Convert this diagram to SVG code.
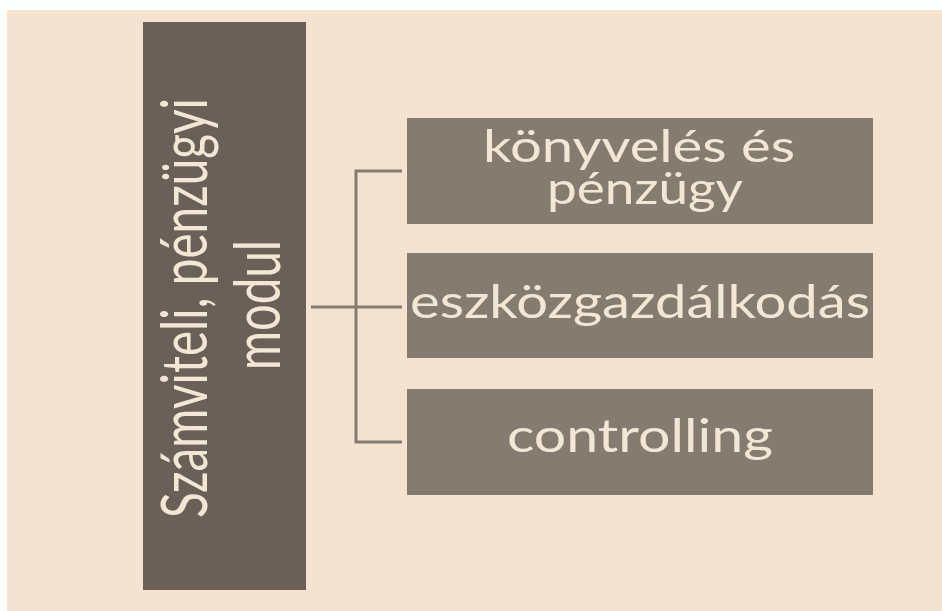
<svg xmlns="http://www.w3.org/2000/svg" width="942" height="611" viewBox="0 0 942 611">
  <style>
    .bg { fill: #F4E3D0; }
    .main { fill: #6A6058; }
    .sub { fill: #857B70; }
    .lbl { font-family: Lato, "Open Sans", "Liberation Sans", sans-serif; fill: #F3E6D5; }
    .conn { fill: none; stroke: #857B70; stroke-width: 3; }
  </style>
  <rect x="0" y="0" width="942" height="611" fill="#FDFEFE"/>
  <rect class="bg" x="7" y="10" width="935" height="601"/>

  <g id="node-main">
    <rect class="main" x="143" y="22" width="163" height="568"/>
    <text class="lbl" font-size="64" text-anchor="middle" transform="translate(207,308) rotate(-90)" textLength="420" lengthAdjust="spacingAndGlyphs">Számviteli, pénzügyi</text>
    <text class="lbl" font-size="64" text-anchor="middle" transform="translate(280,305) rotate(-90)" textLength="130" lengthAdjust="spacingAndGlyphs">modul</text>
  </g>

  <g id="connectors">
    <path class="conn" d="M402,171 H356 V442 H402"/>
    <path class="conn" d="M311,307 H402"/>
  </g>

  <g id="node-konyveles">
    <rect class="sub" x="407" y="118" width="466" height="106"/>
    <text class="lbl" font-size="45" text-anchor="middle" x="639" y="162" textLength="312" lengthAdjust="spacingAndGlyphs">könyvelés és</text>
    <text class="lbl" font-size="45" text-anchor="middle" x="645" y="204" textLength="196" lengthAdjust="spacingAndGlyphs">pénzügy</text>
  </g>

  <g id="node-eszkoz">
    <rect class="sub" x="407" y="253" width="466" height="105"/>
    <text class="lbl" font-size="46" text-anchor="middle" x="640" y="318" textLength="460" lengthAdjust="spacingAndGlyphs">eszközgazdálkodás</text>
  </g>

  <g id="node-controlling">
    <rect class="sub" x="407" y="389" width="466" height="106"/>
    <text class="lbl" font-size="46" text-anchor="middle" x="640" y="452" textLength="266" lengthAdjust="spacingAndGlyphs">controlling</text>
  </g>
</svg>
